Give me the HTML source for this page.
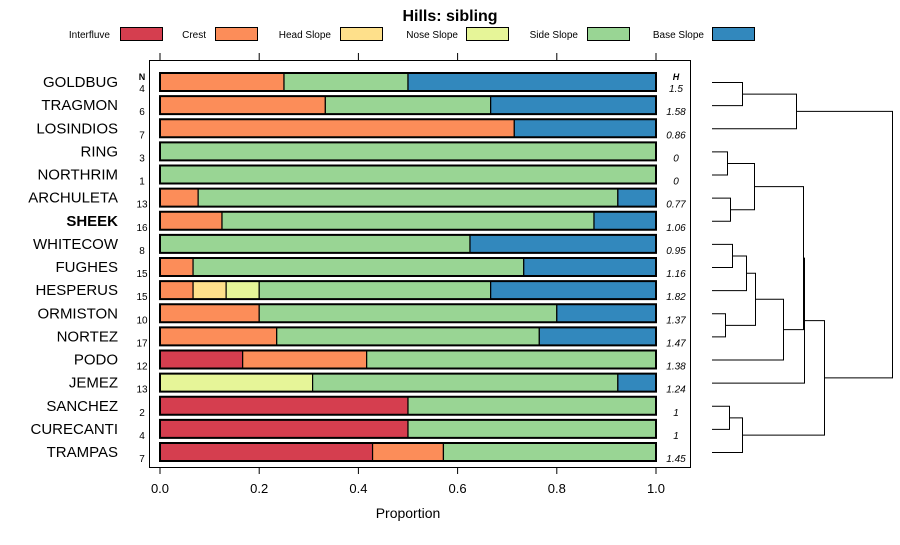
<!DOCTYPE html>
<html><head><meta charset="utf-8"><style>
body{margin:0;background:#fff;}
svg text{font-family:"Liberation Sans",sans-serif;}
</style></head><body>
<svg id="c" width="900" height="540" viewBox="0 0 900 540" xmlns="http://www.w3.org/2000/svg">
<text x="450" y="21" text-anchor="middle" font-size="16" font-weight="bold">Hills: sibling</text>
<g id="legend"></g>
<rect x="149.5" y="60.5" width="541" height="407" fill="none" stroke="#000"/>
<g id="bars"></g>
<g id="axis"></g>
<g id="dendro" stroke="#000" fill="none"></g>
<text x="408" y="518" text-anchor="middle" font-size="14">Proportion</text>
</svg>
<script>
const categories=["Interfluve","Crest","Head Slope","Nose Slope","Side Slope","Base Slope"];
const colors=["#D53E4F","#FC8D59","#FEE08B","#E6F598","#99D594","#3288BD"];
const sites=["GOLDBUG","TRAGMON","LOSINDIOS","RING","NORTHRIM","ARCHULETA","SHEEK","WHITECOW","FUGHES","HESPERUS","ORMISTON","NORTEZ","PODO","JEMEZ","SANCHEZ","CURECANTI","TRAMPAS"];
const counts=[4,6,7,3,1,13,16,8,15,15,10,17,12,13,2,4,7];
const entropy=["1.5","1.58","0.86","0","0","0.77","1.06","0.95","1.16","1.82","1.37","1.47","1.38","1.24","1","1","1.45"];
const interfluve=[0,0,0,0,0,0,0,0,0,0,0,0,2/12,0,0.5,0.5,3/7];
const crest=[0.25,1/3,5/7,0,0,1/13,2/16,0,1/15,1/15,0.2,4/17,3/12,0,0,0,1/7];
const headSlope=[0,0,0,0,0,0,0,0,0,1/15,0,0,0,0,0,0,0];
const noseSlope=[0,0,0,0,0,0,0,0,0,1/15,0,0,0,4/13,0,0,0];
const sideSlope=[0.25,1/3,0,1,1,11/13,12/16,5/8,10/15,7/15,0.6,9/17,7/12,8/13,0.5,0.5,3/7];
const baseSlope=[0.5,1/3,2/7,0,0,1/13,2/16,3/8,4/15,5/15,0.2,4/17,0,1/13,0,0,0];
const ticks=[0,0.2,0.4,0.6,0.8,1.0];
const tickLabels=["0.0","0.2","0.4","0.6","0.8","1.0"];
// dendrogram merges: [childA, childB, height]; leaves = row index, nodes = "n"+k
const merges=[[0,1,742],["n0",2,796],[3,4,727],[5,6,730],["n2","n3",754],[7,8,732],["n5",9,746],[10,11,725],["n6","n7",755],["n8",12,783],["n4","n9",803],["n10",13,804],[14,15,729],["n12",16,742],["n11","n13",824],["n1","n14",892]];

const NS="http://www.w3.org/2000/svg";
const x=v=>160+v*496;
const y=i=>82+i*23.125;
function el(t,a,p){const e=document.createElementNS(NS,t);for(const k in a)e.setAttribute(k,a[k]);p.appendChild(e);return e;}
const series=[interfluve,crest,headSlope,noseSlope,sideSlope,baseSlope];
// legend
const lg=document.getElementById('legend');
const legX=[[110,120],[206,215],[331,340],[458,466],[578,587],[704,712]];
categories.forEach((c,k)=>{
  const g=el('g',{},lg);
  
  
  const t=el('text',{x:legX[k][0],y:38,'text-anchor':'end','font-size':10},g);t.textContent=c;
  el('rect',{x:legX[k][1]+0.5,y:27.5,width:42,height:13,fill:colors[k],stroke:'#000'},g);
});
// bars
const bg=document.getElementById('bars');
let t=el('text',{x:142,y:80,'text-anchor':'middle','font-size':9,'font-weight':'bold'},bg);t.textContent='N';
t=el('text',{x:676,y:80,'text-anchor':'middle','font-size':9,'font-weight':'bold','font-style':'italic'},bg);t.textContent='H';
sites.forEach((s,i)=>{
  const cy=y(i);
  const lab=el('text',{x:118,y:cy+5,'text-anchor':'end','font-size':15,'font-weight':s==='SHEEK'?'bold':'normal'},bg);
  lab.textContent=s;
  
  
  const n=el('text',{x:142,y:cy+10,'text-anchor':'middle','font-size':10},bg);n.textContent=counts[i];
  const h=el('text',{x:676,y:cy+10,'text-anchor':'middle','font-size':10,'font-style':'italic'},bg);h.textContent=entropy[i];
  let acc=0;
  series.forEach((sv,k)=>{
    const v=sv[i]; if(v<=0)return;
    const r=el('rect',{x:x(acc),y:cy-9,width:x(acc+v)-x(acc),height:18,fill:colors[k],stroke:'#000','stroke-width':1.2},bg);
    
    
    acc+=v;
  });
  el('rect',{x:x(0),y:cy-9,width:x(1)-x(0),height:18,fill:'none',stroke:'#000','stroke-width':2},bg);
});
// axis
const ax=document.getElementById('axis');
ticks.forEach((v,k)=>{
  el('line',{x1:x(v),x2:x(v),y1:53,y2:60,stroke:'#000'},ax);
  el('line',{x1:x(v),x2:x(v),y1:467,y2:474,stroke:'#000'},ax);
  const tl=el('text',{x:x(v),y:493,'text-anchor':'middle','font-size':13},ax);tl.textContent=tickLabels[k];
  
  
});
// dendrogram
const dg=document.getElementById('dendro');
const pos={};
function getP(c){return typeof c==='number'?{x:712,y:y(c)}:pos[c];}
merges.forEach((m,k)=>{
  const a=getP(m[0]),b=getP(m[1]),hx=m[2];
  const p=el('path',{d:`M${a.x},${a.y+.5}H${hx+.5}V${b.y+.5}H${b.x}`,'stroke-width':1},dg);
  
  
  pos["n"+k]={x:hx,y:(a.y+b.y)/2};
});
</script>
</body></html>
